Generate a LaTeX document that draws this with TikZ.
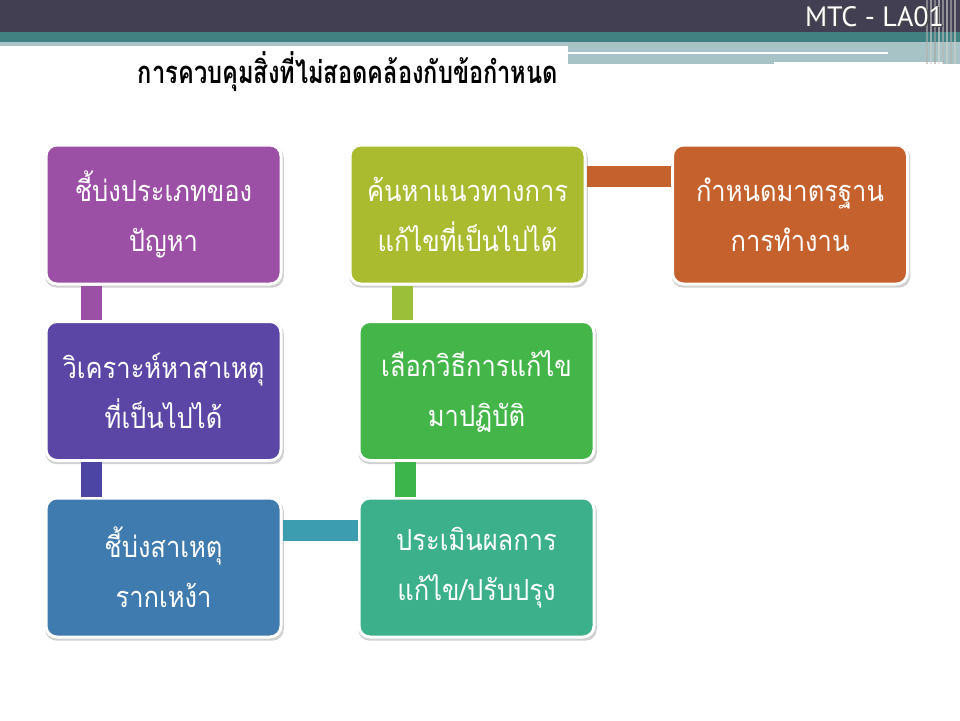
\documentclass[tikz,border=0pt]{standalone}
\usepackage{fontspec}
\usepackage{graphicx}
\newfontfamily\thaifont[Script=Thai]{Loma}
\newfontfamily\thaibox[Script=Thai,FakeStretch=0.88]{Loma}
\newfontfamily\hdfont{PT Sans}
\usetikzlibrary{shadows}
\definecolor{hdark}{HTML}{413F51}
\definecolor{hteal}{HTML}{418181}
\definecolor{hlight}{HTML}{A7C3C5}
\definecolor{cpurple}{HTML}{9B4FA5}
\definecolor{cindigo}{HTML}{5B46A6}
\definecolor{cblue}{HTML}{3F7BAE}
\definecolor{cteal}{HTML}{3BB08A}
\definecolor{cgreen}{HTML}{44B649}
\definecolor{cyellow}{HTML}{ABBB30}
\definecolor{corange}{HTML}{C4612D}
\definecolor{kindigo}{HTML}{4C45A4}
\definecolor{kblue}{HTML}{3C9DB0}
\definecolor{kgreen}{HTML}{3CB54A}
\definecolor{kyellow}{HTML}{9CBF3A}
\tikzset{
  stepbox/.style={draw=white, line width=3pt, rounded corners=11pt,
    minimum width=235pt, minimum height=139pt, align=center, text=white,
    font=\thaibox\fontsize{29}{50}\selectfont, inner sep=0pt,
    general shadow={fill=black, opacity=0.18, shadow scale=1.015, shadow xshift=1pt, shadow yshift=-2.5pt}},
  link/.style={line width=21pt}
}
\begin{document}
\begin{tikzpicture}[x=1pt,y=-1pt]
\useasboundingbox (0,0) rectangle (960,720);
\fill[white] (0,0) rectangle (960,720);
% header
\fill[hdark] (0,0) rectangle (960,32);
\fill[hteal] (0,32) rectangle (960,42);
\fill[hlight] (0,42) rectangle (960,46);
\fill[hlight] (568,42) rectangle (960,64);
\fill[white] (568,52) rectangle (888,54);
\fill[white] (774,62) rectangle (943,66);
\foreach \xx/\cc in {926/gray!60,930/gray!40,934/gray!70,938/gray!30,942/gray!55,946/gray!35,950/gray!60,954/gray!40}
  \fill[\cc,opacity=0.6] (\xx,0) rectangle ++(1.5,64);
\node[anchor=east, text=black!70, font=\hdfont\fontsize{28}{30}\selectfont] at (948.8,18) {MTC - LA01};
\node[anchor=east, text=white, font=\hdfont\fontsize{28}{30}\selectfont] (hd) at (947.5,17) {MTC - LA01};
\node[anchor=center, inner sep=0pt] (title) at (348,72)
  {\resizebox*{420pt}{40pt}{\thaifont\bfseries การควบคุมสิ่งที่ไม่สอดคล้องกับข้อกำหนด}};
% boxes
\node[stepbox, fill=cpurple] (b1) at (163.5,214.5) {ชี้บ่งประเภทของ\\ปัญหา};
\node[stepbox, fill=cindigo] (b2) at (163.5,391) {วิเคราะห์หาสาเหตุ\\ที่เป็นไปได้};
\node[stepbox, fill=cblue] (b3) at (163.5,567.5) {ชี้บ่งสาเหตุ\\รากเหง้า};
\node[stepbox, fill=cteal] (b4) at (476.5,567.5) {ประเมินผลการ\\แก้ไข/ปรับปรุง};
\node[stepbox, fill=cgreen] (b5) at (476.5,391) {เลือกวิธีการแก้ไข\\มาปฏิบัติ};
\node[stepbox, fill=cyellow] (b6) at (467.5,214.5) {ค้นหาแนวทางการ\\แก้ไขที่เป็นไปได้};
\node[stepbox, fill=corange] (b7) at (790,214.5) {กำหนดมาตรฐาน\\การทำงาน};
% connectors
\draw[link, cpurple] ([xshift=47pt]b1.south west) -- ([xshift=47pt]b2.north west);
\draw[link, kindigo] ([xshift=47pt]b2.south west) -- ([xshift=47pt]b3.north west);
\draw[link, kblue] ([yshift=37.5pt]b3.east) -- ([yshift=37.5pt]b4.west);
\draw[link, kgreen] ([xshift=47.5pt]b4.north west) -- ([xshift=47.5pt]b5.south west);
\draw[link, kyellow] ([xshift=45pt]b5.north west) -- ([xshift=54pt]b6.south west);
\draw[link, corange] ([yshift=38.5pt]b6.east) -- ([yshift=38.5pt]b7.west);
\end{tikzpicture}
\end{document}
